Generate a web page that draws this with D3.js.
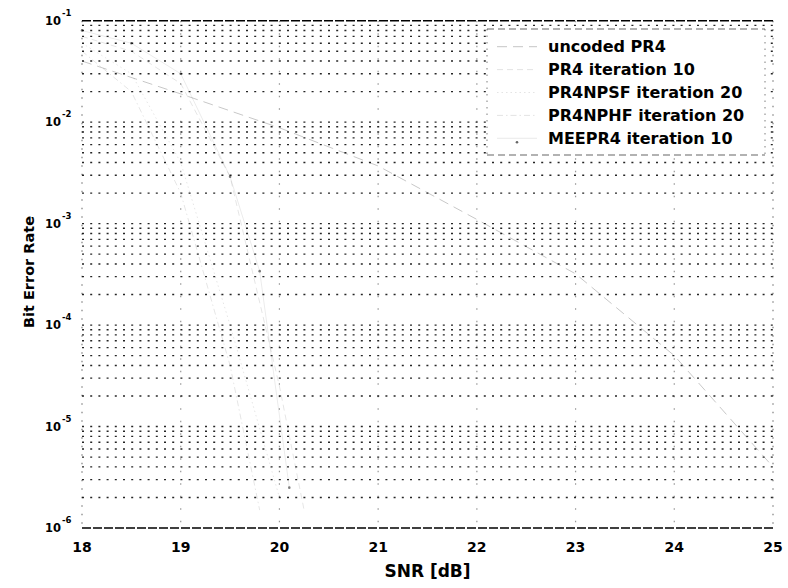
<!DOCTYPE html>
<html>
<head>
<meta charset="utf-8">
<script src="https://cdn.jsdelivr.net/npm/d3@7"></script>
<style>
  body { margin: 0; background: #fff; }
  svg text { font-family: "DejaVu Sans", "Liberation Sans", Arial, sans-serif; font-weight: bold; fill: #000; }
</style>
</head>
<body>
<svg id="chart" width="788" height="588"></svg>
<script>
// Data (curves are very faint in the scan)
const snrTicks = [18, 19, 20, 21, 22, 23, 24, 25];
const decadeTicks = [1e-6, 1e-5, 1e-4, 1e-3, 1e-2, 1e-1];
const decadeExp = ['-6', '-5', '-4', '-3', '-2', '-1'];

const uncodedSnr = [18, 19, 20, 21, 22, 23, 24, 25];
const uncodedBer = [0.04, 0.019, 0.0088, 0.0037, 0.0011, 3.2e-4, 5e-5, 4e-6];

const pr4Snr = [18, 18.5, 19, 19.5, 20, 20.25];
const pr4Ber = [0.07, 0.05, 0.024, 0.0029, 2.5e-5, 1.5e-6];

const npsfSnr = [18, 18.5, 19, 19.5, 20];
const npsfBer = [0.06, 0.03, 0.004, 1e-4, 2e-6];

const nphfSnr = [18, 18.5, 19, 19.5, 19.8];
const nphfBer = [0.05, 0.02, 0.002, 4e-5, 1.5e-6];

const meeSnr = [18, 18.5, 19, 19.5, 19.8, 20.1];
const meeBer = [0.08, 0.06, 0.03, 0.0029, 3.4e-4, 2.5e-6];

const seriesNames = ['uncoded PR4', 'PR4 iteration 10', 'PR4NPSF iteration 20', 'PR4NPHF iteration 20', 'MEEPR4 iteration 10'];

// Layout
const width = 788, height = 588;
const plotLeft = 82, plotRight = 773, plotTop = 20.7, plotBottom = 528;

const svg = d3.select('#chart');

const x = d3.scaleLinear().domain([18, 25]).range([plotLeft, plotRight]);
const y = d3.scaleLog().domain([1e-6, 1e-1]).range([plotBottom, plotTop]);

// Minor + major grid values on the log axis
const gridVals = [];
for (let e = -6; e < -1; e++) {
  for (let m = 1; m <= 9; m++) gridVals.push(m * Math.pow(10, e));
}

// Horizontal dotted grid
svg.append('g')
  .selectAll('line')
  .data(gridVals.filter(v => v > 1e-6))
  .join('line')
  .attr('x1', plotLeft)
  .attr('x2', plotRight)
  .attr('y1', d => y(d))
  .attr('y2', d => y(d))
  .attr('stroke', '#000')
  .attr('stroke-width', 1.4)
  .attr('stroke-dasharray', '2,6.2')
  .attr('opacity', 0.85);

// Vertical dotted grid (faint in the scan)
svg.append('g')
  .selectAll('line')
  .data(snrTicks.slice(1, -1))
  .join('line')
  .attr('x1', d => x(d))
  .attr('x2', d => x(d))
  .attr('y1', plotTop)
  .attr('y2', plotBottom)
  .attr('stroke', '#000')
  .attr('stroke-width', 1.2)
  .attr('stroke-dasharray', '1.5,11')
  .attr('opacity', 0.4);

// Axes box
[plotTop, plotBottom].forEach(py => {
  svg.append('line')
    .attr('x1', plotLeft).attr('x2', plotRight)
    .attr('y1', py).attr('y2', py)
    .attr('stroke', '#000').attr('stroke-width', 1.4)
    .attr('stroke-dasharray', '9,2');
});
[plotLeft, plotRight].forEach(px => {
  svg.append('line')
    .attr('x1', px).attr('x2', px)
    .attr('y1', plotTop).attr('y2', plotBottom)
    .attr('stroke', '#000').attr('stroke-width', 1.2)
    .attr('stroke-dasharray', '1.5,7')
    .attr('opacity', 0.5);
});

// Data curves - nearly washed out in the original scan
const line = d3.line()
  .x(d => x(d[0]))
  .y(d => y(d[1]));

const curves = [
  { s: uncodedSnr, b: uncodedBer, dash: '10,6', op: 0.22 },
  { s: pr4Snr, b: pr4Ber, dash: '6,4', op: 0.1 },
  { s: npsfSnr, b: npsfBer, dash: '1.5,3', op: 0.1 },
  { s: nphfSnr, b: nphfBer, dash: '6,3,1.5,3', op: 0.1 },
  { s: meeSnr, b: meeBer, dash: null, op: 0.08 }
];

curves.forEach((c, i) => {
  const pts = d3.zip(c.s, c.b);
  svg.append('path')
    .datum(pts)
    .attr('d', line)
    .attr('fill', 'none')
    .attr('stroke', '#000')
    .attr('stroke-width', 1)
    .attr('stroke-dasharray', c.dash)
    .attr('opacity', c.op);
  if (i === 4) {
    svg.append('g')
      .selectAll('circle')
      .data(pts)
      .join('circle')
      .attr('cx', d => x(d[0]))
      .attr('cy', d => y(d[1]))
      .attr('r', 1.3)
      .attr('fill', '#000')
      .attr('opacity', 0.5);
  }
});

// X tick labels
svg.append('g')
  .selectAll('text')
  .data(snrTicks)
  .join('text')
  .attr('x', d => x(d))
  .attr('y', 547)
  .attr('text-anchor', 'middle')
  .attr('dominant-baseline', 'central')
  .style('font-size', '14px')
  .text(d => d);

// Y tick labels, 10 with superscript exponent
svg.append('g')
  .selectAll('text')
  .data(decadeTicks)
  .join('text')
  .attr('x', 61)
  .attr('y', d => y(d) + 4)
  .attr('text-anchor', 'end')
  .style('font-size', '11.5px')
  .text('10');
svg.append('g')
  .selectAll('text')
  .data(decadeTicks)
  .join('text')
  .attr('x', 62)
  .attr('y', d => y(d) - 5)
  .style('font-size', '8.5px')
  .text((d, i) => decadeExp[i]);

// Axis labels
svg.append('text')
  .attr('x', (plotLeft + plotRight) / 2)
  .attr('y', 571)
  .attr('text-anchor', 'middle')
  .attr('dominant-baseline', 'central')
  .style('font-size', '17px')
  .text('SNR [dB]');

svg.append('text')
  .attr('transform', `translate(29,272) rotate(-90)`)
  .attr('text-anchor', 'middle')
  .attr('dominant-baseline', 'central')
  .style('font-size', '14.5px')
  .text('Bit Error Rate');

// Legend
const legX = 487, legY = 29, legW = 278, legH = 126;
const legend = svg.append('g');
legend.append('rect')
  .attr('x', legX).attr('y', legY)
  .attr('width', legW).attr('height', legH)
  .attr('fill', '#fff');
[legY, legY + legH].forEach(py => {
  legend.append('line')
    .attr('x1', legX).attr('x2', legX + legW)
    .attr('y1', py).attr('y2', py)
    .attr('stroke', '#000').attr('stroke-width', 1)
    .attr('stroke-dasharray', '7,4')
    .attr('opacity', 0.6);
});
[legX, legX + legW].forEach(px => {
  legend.append('line')
    .attr('x1', px).attr('x2', px)
    .attr('y1', legY).attr('y2', legY + legH)
    .attr('stroke', '#000').attr('stroke-width', 1)
    .attr('stroke-dasharray', '1.5,5')
    .attr('opacity', 0.5);
});

const rowY = d3.scalePoint().domain(seriesNames).range([46.7, 138.3]);

legend.selectAll('text.item')
  .data(seriesNames)
  .join('text')
  .attr('class', 'item')
  .attr('x', 548)
  .attr('y', d => rowY(d))
  .attr('dominant-baseline', 'central')
  .style('font-size', '16px')
  .text(d => d);

legend.selectAll('line.sample')
  .data(curves)
  .join('line')
  .attr('class', 'sample')
  .attr('x1', 497).attr('x2', 537)
  .attr('y1', (d, i) => rowY(seriesNames[i]))
  .attr('y2', (d, i) => rowY(seriesNames[i]))
  .attr('stroke', '#000')
  .attr('stroke-width', 1)
  .attr('stroke-dasharray', d => d.dash)
  .attr('opacity', d => d.op);

legend.append('circle')
  .attr('cx', 517)
  .attr('cy', rowY(seriesNames[4]) + 4)
  .attr('r', 1.3)
  .attr('fill', '#000')
  .attr('opacity', 0.6);
</script>
</body>
</html>
